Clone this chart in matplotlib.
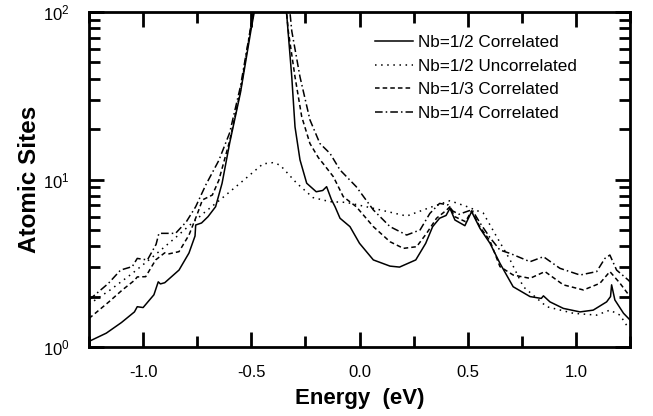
import numpy as np
import matplotlib
matplotlib.use('Agg')
import matplotlib.pyplot as plt
from matplotlib.ticker import MultipleLocator, FixedFormatter, FixedLocator

plt.rcParams['font.family'] = ['Liberation Sans', 'DejaVu Sans']
plt.rcParams['mathtext.fontset'] = 'custom'
plt.rcParams['mathtext.rm'] = 'Liberation Sans'
plt.rcParams['mathtext.it'] = 'Liberation Sans'

# Nb=1/2 correlated (solid)
x_c12 = [-1.25, -1.17, -1.10, -1.04, -1.027, -1.0, -0.95, -0.93, -0.92, -0.90, -0.834, -0.788,
         -0.76, -0.757, -0.73, -0.70, -0.665, -0.635, -0.60, -0.55, -0.50, -0.47,
         -0.35, -0.336, -0.313, -0.298, -0.275, -0.244, -0.20, -0.17, -0.152, -0.13, -0.113,
         -0.09, -0.044, 0.0, 0.064, 0.141, 0.185, 0.26, 0.306, 0.338, 0.37, 0.40, 0.418,
         0.441, 0.487, 0.518, 0.557, 0.603, 0.649, 0.71, 0.788, 0.84, 0.85, 0.88, 0.942,
         1.019, 1.08, 1.142, 1.16, 1.165, 1.18, 1.22, 1.25]
y_c12 = [1.08, 1.21, 1.40, 1.62, 1.74, 1.72, 2.05, 2.45, 2.38, 2.42, 2.88, 3.64,
         4.6, 5.35, 5.5, 6.0, 6.88, 9.5, 16.5, 33, 80, 130,
         130, 95, 41, 20.6, 13.1, 9.5, 8.45, 8.6, 9.06, 7.6, 6.88,
         5.87, 5.23, 4.16, 3.31, 3.04, 3.0, 3.31, 4.16, 5.23, 5.87, 6.1, 6.73,
         5.73, 5.3, 6.43, 5.1, 4.16, 3.16, 2.29, 2.0, 1.95, 2.02, 1.86, 1.70,
         1.62, 1.66, 1.86, 2.0, 2.35, 1.91, 1.59, 1.45]

# Nb=1/2 uncorrelated (dotted)
x_u12 = [-1.25, -1.15, -1.05, -0.95, -0.85, -0.78, -0.72, -0.645, -0.552, -0.446, -0.40,
         -0.367, -0.29, -0.215, -0.136, -0.06, 0.064, 0.218, 0.325, 0.418, 0.495, 0.572,
         0.634, 0.696, 0.757, 0.865, 0.988, 1.096, 1.157, 1.204, 1.234, 1.25]
y_u12 = [1.8, 2.2, 2.75, 3.5, 4.5, 5.4, 6.3, 7.55, 9.5, 12.4, 12.6,
         12.2, 9.5, 7.8, 7.37, 7.3, 6.73, 6.05, 6.8, 7.47, 6.9, 6.3,
         4.55, 3.31, 2.29, 1.74, 1.59, 1.55, 1.66, 1.55, 1.35, 1.3]

# Nb=1/3 correlated (dashed)
x_c13 = [-1.25, -1.158, -1.096, -1.04, -1.027, -0.988, -0.942, -0.90, -0.88, -0.834, -0.788,
         -0.75, -0.726, -0.68, -0.65, -0.60, -0.55, -0.50, -0.47,
         -0.345, -0.329, -0.298, -0.267, -0.229, -0.19, -0.167, -0.121, -0.075, -0.015,
         0.064, 0.141, 0.203, 0.264, 0.31, 0.356, 0.403, 0.418, 0.44, 0.49, 0.518, 0.557,
         0.603, 0.649, 0.71, 0.788, 0.857, 0.942, 1.035, 1.111, 1.157, 1.204, 1.25]
y_c13 = [1.48, 1.86, 2.19, 2.5, 2.62, 2.63, 3.31, 3.65, 3.6, 3.71, 4.66,
         6.2, 7.55, 8.08, 9.9, 17, 34, 85, 130,
         130, 77, 41, 23.7, 16.4, 13.5, 12.4, 10.4, 7.9, 6.88,
         5.23, 4.25, 3.88, 3.97, 4.77, 5.87, 6.58, 6.88, 6.0, 5.6, 6.5, 5.2,
         4.3, 3.02, 2.69, 2.57, 2.82, 2.35, 2.19, 2.4, 2.82, 2.4, 2.0]

# Nb=1/4 correlated (dash-dot)
x_c14 = [-1.25, -1.16, -1.104, -1.05, -1.027, -0.98, -0.94, -0.927, -0.85, -0.80, -0.757,
         -0.71, -0.65, -0.60, -0.55, -0.50, -0.47,
         -0.33, -0.313, -0.275, -0.229, -0.183, -0.136, -0.09, -0.015, 0.064, 0.141,
         0.218, 0.28, 0.325, 0.37, 0.41, 0.43, 0.46, 0.49, 0.52, 0.557, 0.603, 0.649,
         0.696, 0.788, 0.85, 0.926, 1.019, 1.096, 1.134, 1.157, 1.188, 1.242, 1.25]
y_c14 = [1.91, 2.4, 2.88, 3.02, 3.38, 3.31, 4.1, 4.77, 4.77, 5.6, 6.88,
         9.3, 13, 19, 36, 85, 130,
         130, 77, 41, 22.7, 16.4, 14.3, 11.4, 9.06, 6.58, 5.23,
         4.66, 5.0, 6.27, 7.2, 7.05, 6.5, 6.2, 6.4, 6.6, 5.5, 4.5, 3.79,
         3.62, 3.23, 3.46, 2.95, 2.69, 2.82, 3.38, 3.54, 2.88, 2.51, 2.45]

labels = ['Nb=1/2 Correlated', 'Nb=1/2 Uncorrelated', 'Nb=1/3 Correlated', 'Nb=1/4 Correlated']
xticks = [-1.0, -0.5, 0.0, 0.5, 1.0]
xtick_labels = ['-1.0', '-0.5', '0.0', '0.5', '1.0']

fig = plt.figure(figsize=(6.53, 4.16), dpi=100)
ax = fig.add_axes([89 / 653, 69 / 416, 541 / 653, 335 / 416])

ax.plot(x_c12, y_c12, color='black', lw=1.1, ls='-', label=labels[0])
ax.plot(x_u12, y_u12, color='black', lw=1.1, ls=(0, (1, 3)), label=labels[1])
ax.plot(x_c13, y_c13, color='black', lw=1.1, ls=(0, (3, 2)), label=labels[2])
ax.plot(x_c14, y_c14, color='black', lw=1.1, ls=(0, (5, 2, 1, 2)), label=labels[3])

ax.set_yscale('log')
ax.set_xlim(-1.25, 1.25)
ax.set_ylim(1, 100)

ax.xaxis.set_major_locator(FixedLocator(xticks))
ax.xaxis.set_major_formatter(FixedFormatter(xtick_labels))
ax.xaxis.set_minor_locator(MultipleLocator(0.25))

for s in ax.spines.values():
    s.set_linewidth(2)
ax.tick_params(which='both', direction='in', top=True, right=True, width=2, labelsize=12)
ax.tick_params(axis='x', which='major', length=11, pad=13)
ax.tick_params(axis='y', which='major', length=11, pad=14)
ax.tick_params(which='minor', length=8)

ax.set_xlabel('Energy  (eV)', fontsize=16, fontweight='bold', labelpad=6)
ax.set_ylabel('Atomic Sites', fontsize=17.5, fontweight='bold', labelpad=1)

ax.legend(loc='upper left', bbox_to_anchor=(375 / 653, 1 - 35 / 416),
          bbox_transform=fig.transFigure, frameon=False, fontsize=12.3,
          handlelength=2.2, handletextpad=0.3, labelspacing=0.5,
          borderpad=0, borderaxespad=0)

fig.savefig('out.png', dpi=100)
plt.close(fig)
